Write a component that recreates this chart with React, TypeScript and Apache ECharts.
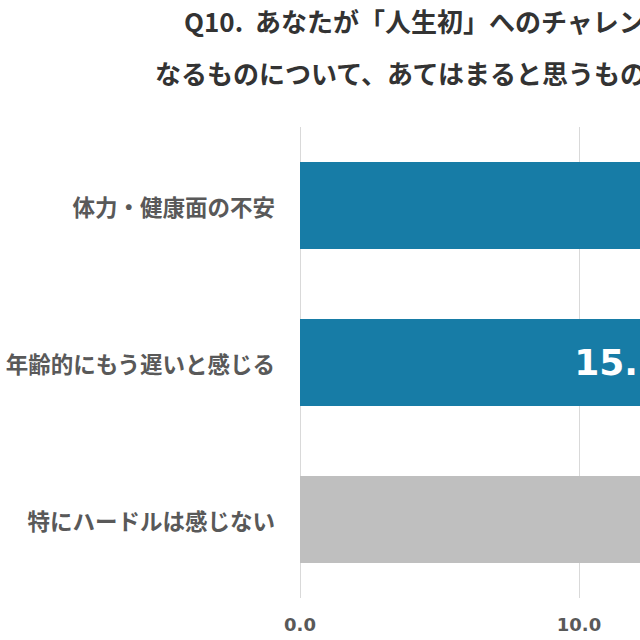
import React, { useEffect, useRef } from "react";
import * as echarts from "echarts";

const titleLine1 = "Q10.  あなたが「人生初」へのチャレンジをする際に、ハードルと";
const titleLine2 = "なるものについて、あてはまると思うものをお選びください。（複数回答）";
const categories = ["体力・健康面の不安", "年齢的にもう遅いと感じる", "特にハードルは感じない"];
const values = [29.8, 15.2, 44.6];
const barColors = ["#177CA6", "#177CA6", "#BFBFBF"];
const labelColors = ["#FFFFFF", "#FFFFFF", "#404040"];
const axisMax = 50;
const axisInterval = 10;

export default function App() {
  const ref = useRef<HTMLDivElement>(null);
  useEffect(() => {
    if (!ref.current) return;
    const chart = echarts.init(ref.current, undefined, { renderer: "svg" });
    const cjk = '"Noto Sans CJK JP", "Noto Sans", sans-serif';
    chart.setOption({
      animation: false,
      backgroundColor: "#ffffff",
      title: [
        {
          text: titleLine1,
          left: 179,
          top: 2,
          textStyle: { fontFamily: cjk, fontWeight: "bold", fontSize: 26, color: "#333333" },
        },
        {
          text: titleLine2,
          left: 150,
          top: 54,
          textStyle: { fontFamily: cjk, fontWeight: "bold", fontSize: 26, color: "#333333" },
        },
      ],
      grid: { left: 300, top: 127, height: 471, width: 27.9 * axisMax, containLabel: false },
      xAxis: {
        type: "value",
        min: 0,
        max: axisMax,
        interval: axisInterval,
        axisLine: { show: false },
        axisTick: { show: false },
        splitLine: { show: true, lineStyle: { color: "#D9D9D9", width: 1 } },
        axisLabel: {
          formatter: (v: number) => v.toFixed(1),
          fontFamily: '"DejaVu Sans", sans-serif',
          fontWeight: "bold",
          fontSize: 18,
          color: "#595959",
          margin: 17,
        },
      },
      yAxis: {
        type: "category",
        data: categories,
        inverse: true,
        axisLine: { show: false },
        axisTick: { show: false },
        splitLine: { show: false },
        axisLabel: {
          fontFamily: cjk,
          fontWeight: "bold",
          fontSize: 22.5,
          color: "#595959",
          margin: 25,
        },
      },
      series: [
        {
          type: "bar",
          barWidth: 87,
          data: values.map((v, i) => ({
            value: v,
            itemStyle: { color: barColors[i] },
            label: { color: labelColors[i] },
          })),
          label: {
            show: true,
            position: "insideRight",
            distance: 61,
            formatter: (p: any) => Number(p.value).toFixed(1),
            fontFamily: '"DejaVu Sans", sans-serif',
            fontWeight: "bold",
            fontSize: 36,
          },
        },
      ],
    });
    return () => chart.dispose();
  }, []);
  return (
    <div
      style={{ position: "fixed", left: 0, top: 0, width: 640, height: 640, overflow: "hidden", background: "#fff" }}
    >
      <div ref={ref} style={{ width: 1800, height: 640 }} />
    </div>
  );
}
